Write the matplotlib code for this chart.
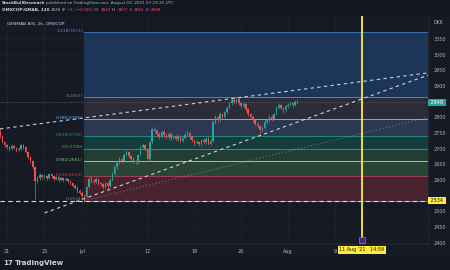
import matplotlib
matplotlib.use("Agg")
import matplotlib.pyplot as plt
import matplotlib.transforms as mtransforms
from matplotlib.patches import Rectangle
import numpy as np

# --- data (2h bars, bar 0 = first bar of Jun 21) ---
first_open = 2752
closes = [2740, 2722, 2712,
          2705, 2698, 2710, 2702,  2695, 2700, 2712, 2705,  2690, 2672, 2660, 2642,
          2598, 2605, 2615, 2610,  2612, 2606, 2618, 2612,  2604, 2610, 2600, 2606,
          2600, 2604, 2596, 2590,  2582, 2576, 2566, 2560,  2550, 2546, 2578, 2603,
          2598, 2594, 2602, 2590,  2586, 2578, 2590, 2582,  2600, 2620, 2640, 2655,
          2666, 2660, 2680, 2690,  2676, 2668, 2660, 2656,  2680, 2705, 2712, 2698,
          2666, 2720, 2762, 2756,  2748, 2738, 2754, 2744,  2736, 2748, 2734, 2740,
          2730, 2742, 2726, 2735,  2745, 2750, 2736, 2728,  2718, 2722, 2714, 2728,
          2720, 2732, 2716, 2726,  2786, 2800, 2790, 2810,  2800, 2816, 2830, 2845,
          2856, 2850, 2858, 2846,  2836, 2842, 2826, 2810,  2800, 2790, 2780, 2772,
          2758, 2766, 2784, 2790,  2800, 2794, 2810, 2830,  2840, 2830, 2822, 2836,
          2840, 2846, 2838, 2849,  2848]
highs = [2762, 2744, 2726,
         2716, 2710, 2714, 2713,  2706, 2704, 2716, 2715,  2708, 2693, 2676, 2664,
         2645, 2612, 2622, 2620,  2618, 2616, 2622, 2622,  2615, 2614, 2613, 2610,
         2609, 2608, 2607, 2600,  2594, 2586, 2580, 2570,  2564, 2555, 2582, 2610,
         2612, 2604, 2608, 2606,  2595, 2590, 2594, 2594,  2605, 2624, 2645, 2660,
         2672, 2670, 2686, 2696,  2694, 2680, 2672, 2664,  2684, 2710, 2718, 2715,
         2702, 2726, 2770, 2768,  2762, 2752, 2758, 2758,  2748, 2752, 2752, 2745,
         2744, 2747, 2745, 2740,  2752, 2758, 2754, 2740,  2732, 2728, 2726, 2732,
         2734, 2738, 2736, 2730,  2792, 2806, 2804, 2816,  2814, 2820, 2836, 2850,
         2862, 2865, 2863, 2861,  2850, 2848, 2846, 2830,  2814, 2806, 2795, 2786,
         2776, 2772, 2790, 2796,  2806, 2808, 2815, 2836,  2846, 2844, 2834, 2840,
         2846, 2852, 2850, 2854,  2857]
lows = [2734, 2718, 2706,
        2700, 2692, 2695, 2698,  2690, 2691, 2697, 2700,  2686, 2668, 2655, 2636,
        2540, 2590, 2600, 2604,  2604, 2600, 2602, 2606,  2598, 2600, 2595, 2596,
        2595, 2596, 2590, 2585,  2577, 2570, 2560, 2554,  2544, 2534, 2542, 2574,
        2592, 2588, 2589, 2584,  2580, 2572, 2574, 2576,  2579, 2596, 2616, 2636,
        2650, 2654, 2656, 2675,  2670, 2662, 2655, 2650,  2652, 2676, 2700, 2692,
        2660, 2662, 2716, 2750,  2742, 2732, 2734, 2738,  2730, 2732, 2728, 2730,
        2724, 2726, 2720, 2722,  2732, 2740, 2730, 2722,  2712, 2714, 2708, 2710,
        2714, 2716, 2712, 2712,  2722, 2780, 2784, 2786,  2794, 2796, 2812, 2826,
        2840, 2844, 2845, 2840,  2830, 2830, 2820, 2804,  2794, 2784, 2774, 2765,
        2748, 2752, 2760, 2778,  2785, 2788, 2790, 2806,  2826, 2824, 2815, 2818,
        2830, 2836, 2833, 2835,  2843]
first_bar = -3

fib_ratios = ["1.618", "1", "0.786", "0.618", "0.5", "0.382", "0.236", "0"]
fib_prices = [3071, 2865, 2795, 2739, 2700, 2661, 2612, 2534]
fib_start_bar = 33

tick_bars = [0, 16, 32, 60, 80, 100, 120, 140]
tick_labels = ["21", "25", "Jul", "12", "19", "26", "Aug", "9"]
price_ticks = [2400, 2450, 2500, 2600, 2650, 2700, 2750, 2800, 2900, 2950, 3000, 3050]

# upper / lower channel lines (bar, price)
upper_line = [(-3, 2763), (180, 2942)]
lower_line = [(16, 2495), (180, 2935)]
faint_line = [(33, 2534), (180, 2800)]
marker_bar = 151.5
last_price = 2848
level_price = 2534

BG = "#161a25"
UP = "#26a69a"
DN = "#ef5350"
TXT = "#b2b5be"

W, H = 450, 270
fig = plt.figure(figsize=(4.5, 2.7), dpi=100, facecolor=BG)
plt.rcParams["font.family"] = ["DejaVu Sans"]


def fx(px):
    return px / W


def fy(py):
    return 1 - py / H


# header and footer strips
fig.patches.append(Rectangle((0, fy(16)), 1, 16 / H, transform=fig.transFigure,
                             fc="#131722", ec="none", zorder=0))
fig.patches.append(Rectangle((0, 0), 1, 13 / H, transform=fig.transFigure,
                             fc="#131722", ec="none", zorder=0))

ax = fig.add_axes([0, fy(244), fx(428), (244 - 16) / H])
ax.set_facecolor(BG)
xmin, xmax = -3.0, 179.8
ax.set_xlim(xmin, xmax)
ax.set_ylim(2395.8, 3123.3)

# fibonacci zones
fill_cols = ["#1d3658", "#2a2d38", "#2c3752", "#173c3c", "#203e33", "#2a4536", "#46232f"]
line_cols = ["#3d6fb8", "#787b86", "#8fa6c8", "#1e8c80", "#4f8a5a", "#9cc3a6", "#a04050", "#787b86"]
lab_cols = ["#4f86d8", "#787b86", "#64b5f6", "#089981", "#4caf50", "#81c784", "#f23645", "#787b86"]
for i in range(len(fib_prices) - 1):
    ax.fill_between([fib_start_bar, xmax], fib_prices[i + 1], fib_prices[i],
                    color=fill_cols[i], lw=0, zorder=1)
for r, p, lc, tc in zip(fib_ratios, fib_prices, line_cols, lab_cols):
    ax.plot([fib_start_bar, xmax], [p, p], color=lc, lw=0.7, zorder=2)
    ax.text(fib_start_bar - 0.6, p + 4, f"{r}({p})", color=tc, fontsize=3.2,
            ha="right", va="center", zorder=6)

ax.grid(True, color="#20242f", lw=0.5, zorder=0)
ax.set_axisbelow(True)

# price line and horizontal level
ax.axhline(last_price, color="#5d606b", lw=0.5, ls=(0, (1, 1)), zorder=2)
ax.axhline(level_price, color="#e6e0c0", lw=0.8, ls=(0, (4, 3)), zorder=5)

# trend lines
for ln, a, st in [(upper_line, 0.9, (0, (3, 3))), (lower_line, 0.9, (0, (3, 3))),
                  (faint_line, 0.35, (0, (1, 2)))]:
    (x0, y0), (x1, y1) = ln
    ax.plot([x0, x1], [y0, y1], color="#e0e3eb", lw=0.8, ls=st, alpha=a, zorder=5)

# candles
c = np.array(closes, dtype=float)
o = np.concatenate([[first_open], c[:-1]])
h = np.array(highs, dtype=float)
l = np.array(lows, dtype=float)
xs = np.arange(first_bar, first_bar + len(c))
col = np.where(c >= o, UP, DN)
ax.vlines(xs, l, h, colors=col, lw=0.5, zorder=3)
ax.bar(xs, np.maximum(np.abs(c - o), 1.0), bottom=np.minimum(o, c), width=0.62,
       color=col, lw=0, zorder=4)

# vertical marker line
ax.axvline(marker_bar, color="#ffeb3b", lw=1.3, zorder=6)
ax.plot([marker_bar], [2407], marker="s", ms=5, mfc="#4a1f8c", mec="#9c6ade", mew=0.5,
        zorder=7, clip_on=False)

# axes styling
ax.yaxis.tick_right()
ax.set_yticks(price_ticks)
ax.set_yticklabels([str(p) for p in price_ticks])
ax.set_xticks(tick_bars)
ax.set_xticklabels(tick_labels)
ax.tick_params(axis="both", length=0, labelsize=3.5, colors=TXT)
ax.tick_params(axis="y", pad=4)
ax.tick_params(axis="x", pad=3.5)
for s in ax.spines.values():
    s.set_visible(False)
ax.spines["right"].set_visible(True)
ax.spines["right"].set_color("#2a2e39")
ax.spines["bottom"].set_visible(True)
ax.spines["bottom"].set_color("#2a2e39")
ax.spines["bottom"].set_linewidth(0.5)
ax.spines["right"].set_linewidth(0.5)

# right axis boxes
tr = mtransforms.blended_transform_factory(ax.transAxes, ax.transData)
ax.text(1.003, last_price, " 2848 ", transform=tr, fontsize=3.5, color="white",
        ha="left", va="center", bbox=dict(boxstyle="square,pad=0.25", fc=UP, ec="none"),
        zorder=8, clip_on=False)
ax.text(1.003, level_price, " 2534 ", transform=tr, fontsize=3.5, color="#131722",
        ha="left", va="center", bbox=dict(boxstyle="square,pad=0.25", fc="#ffeb3b", ec="none"),
        zorder=8, clip_on=False)
fig.text(fx(433), fy(22.5), "DKK", fontsize=3.3, color=TXT, ha="left", va="center")

# time axis marker label
trx = mtransforms.blended_transform_factory(ax.transData, fig.transFigure)
ax.text(marker_bar, fy(250), "11 Aug '21   14:59", transform=trx, fontsize=3.5,
        color="#131722", ha="center", va="center",
        bbox=dict(boxstyle="square,pad=0.35", fc="#ffeb3b", ec="none"), zorder=9, clip_on=False)

# header: segments placed one after another
renderer = fig.canvas.get_renderer()


def text_row(x0, py, parts, size=3.0):
    x = x0
    for s, cc, fw in parts:
        t = fig.text(fx(x), fy(py), s, fontsize=size, color=cc, fontweight=fw,
                     ha="left", va="center")
        x += t.get_window_extent(renderer).width + 1.2


text_row(2, 3, [("StockBullDenmark", "#d1d4dc", "bold"),
                ("published on TradingView.com, August 03, 2021 07:23:25 UTC", TXT, "normal")])
text_row(2, 10, [("OMXCOP:GMAB, 120", "#d1d4dc", "bold"), ("2848", TXT, "normal"),
                 ("\u25bc", DN, "normal"), ("\u22121 (\u22120.04%)", DN, "normal"),
                 ("O:", TXT, "normal"), ("2847", DN, "normal"),
                 ("H:", TXT, "normal"), ("2857", DN, "normal"),
                 ("L:", TXT, "normal"), ("2843", DN, "normal"),
                 ("C:", TXT, "normal"), ("2848", DN, "normal")])
fig.text(fx(7), fy(24), "GENMAB A/S, 2h, OMXCOP", fontsize=3.2, color="#d1d4dc",
         ha="left", va="center")

# footer logo
fig.text(fx(3), fy(263), "17", fontsize=5, color="#d1d4dc", fontweight="bold",
         ha="left", va="center")
fig.text(fx(15), fy(263), "TradingView", fontsize=5, color="#d1d4dc",
         fontweight="bold", ha="left", va="center")

fig.savefig("out.png", dpi=100, facecolor=BG)
